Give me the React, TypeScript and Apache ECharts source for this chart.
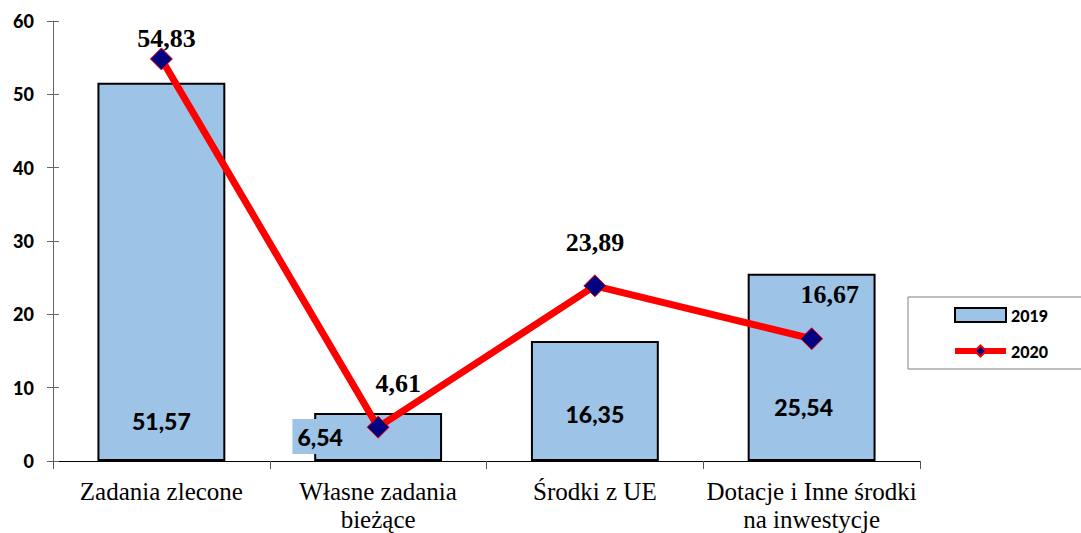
import React, { useEffect, useRef } from "react";
import * as echarts from "echarts";

const categories = ["Zadania zlecone", "Własne zadania\nbieżące", "Środki z UE", "Dotacje i Inne środki\nna inwestycje"];
const values2019 = [51.57, 6.54, 16.35, 25.54];
const values2020 = [54.83, 4.61, 23.89, 16.67];
const yTicks = { min: 0, max: 60, interval: 10 };

const fmt = (v: number) => v.toFixed(2).replace(".", ",");

// label placement tweaks (presentation only)
const barLabelCfg = [
  { distance: 29, offset: [0, 0], bg: false },
  { distance: 7, offset: [-58, 0], bg: true },
  { distance: 36, offset: [0, 0], bg: false },
  { distance: 43, offset: [-8, 0], bg: false },
];
const lineLabelCfg = [
  [5, 4],
  [20, -19],
  [0, -19],
  [18, -20],
];

export default function App() {
  const ref = useRef<HTMLDivElement>(null);
  useEffect(() => {
    if (!ref.current) return;
    const chart = echarts.init(ref.current, null, { renderer: "svg" });
    const sans = "Lato, 'Open Sans', sans-serif";
    const serif = "'Liberation Serif', 'Times New Roman', serif";
    chart.setOption({
      animation: false,
      backgroundColor: "#ffffff",
      grid: { left: 53, right: 161, top: 21, bottom: 71, containLabel: false },
      legend: {
        orient: "vertical",
        left: 908,
        top: 297,
        padding: [10, 90, 10, 44],
        itemGap: 20,
        itemWidth: 51,
        itemHeight: 14,
        borderColor: "#7f7f7f",
        borderWidth: 1,
        textStyle: { fontFamily: sans, fontWeight: 900, fontSize: 16, color: "#000" },
        data: [
          { name: "2019", icon: "rect", itemStyle: { color: "#9DC3E6", borderColor: "#000", borderWidth: 2 } },
          { name: "2020", lineStyle: { color: "#ff0000", width: 6 } },
        ],
      },
      xAxis: {
        type: "category",
        data: categories,
        axisLine: { lineStyle: { color: "#000", width: 1 } },
        axisTick: { show: true, length: 8, lineStyle: { color: "#555" } },
        axisLabel: {
          fontFamily: serif,
          fontSize: 25,
          color: "#000",
          lineHeight: 28,
          margin: 16,
          interval: 0,
        },
      },
      yAxis: [
        {
          type: "value",
          min: yTicks.min,
          max: yTicks.max,
          interval: yTicks.interval,
          splitLine: { show: false },
          axisLine: { show: true, lineStyle: { color: "#666" } },
          axisTick: { show: true, length: 6, lineStyle: { color: "#666" } },
          axisLabel: { fontFamily: sans, fontWeight: 900, fontSize: 18, color: "#000", margin: 19 },
        },
        {
          type: "value",
          position: "left",
          min: yTicks.min,
          max: yTicks.max,
          interval: yTicks.interval,
          splitLine: { show: false },
          axisLine: { show: false },
          axisTick: { show: true, inside: true, length: 6, lineStyle: { color: "#666" } },
          axisLabel: { show: false },
        },
      ],
      series: [
        {
          name: "2019",
          type: "bar",
          barWidth: "59%",
          itemStyle: { color: "#9DC3E6", borderColor: "#000", borderWidth: 2 },
          data: values2019.map((v, i) => ({
            value: v,
            label: {
              show: true,
              position: "insideBottom",
              distance: barLabelCfg[i].distance,
              offset: barLabelCfg[i].offset,
              formatter: fmt(v),
              fontFamily: sans,
              fontWeight: 900,
              fontSize: 23,
              color: "#000",
              ...(barLabelCfg[i].bg
                ? { backgroundColor: "#9DC3E6", padding: [6, 5, 6, 5] }
                : {}),
            },
          })),
          z: 1,
        },
        {
          name: "2020",
          type: "line",
          symbol: "diamond",
          symbolSize: 22,
          lineStyle: { color: "#ff0000", width: 7 },
          itemStyle: { color: "#000080", borderColor: "#ff0000", borderWidth: 1 },
          data: values2020.map((v, i) => ({
            value: v,
            label: {
              show: true,
              position: "top",
              distance: 0,
              offset: lineLabelCfg[i],
              formatter: fmt(v),
              fontFamily: serif,
              fontWeight: "bold",
              fontSize: 26,
              color: "#000",
            },
          })),
          z: 3,
        },
      ],
    });
    return () => chart.dispose();
  }, []);
  return <div ref={ref} style={{ width: 1081, height: 533, position: "absolute", left: 0, top: 0 }} />;
}
